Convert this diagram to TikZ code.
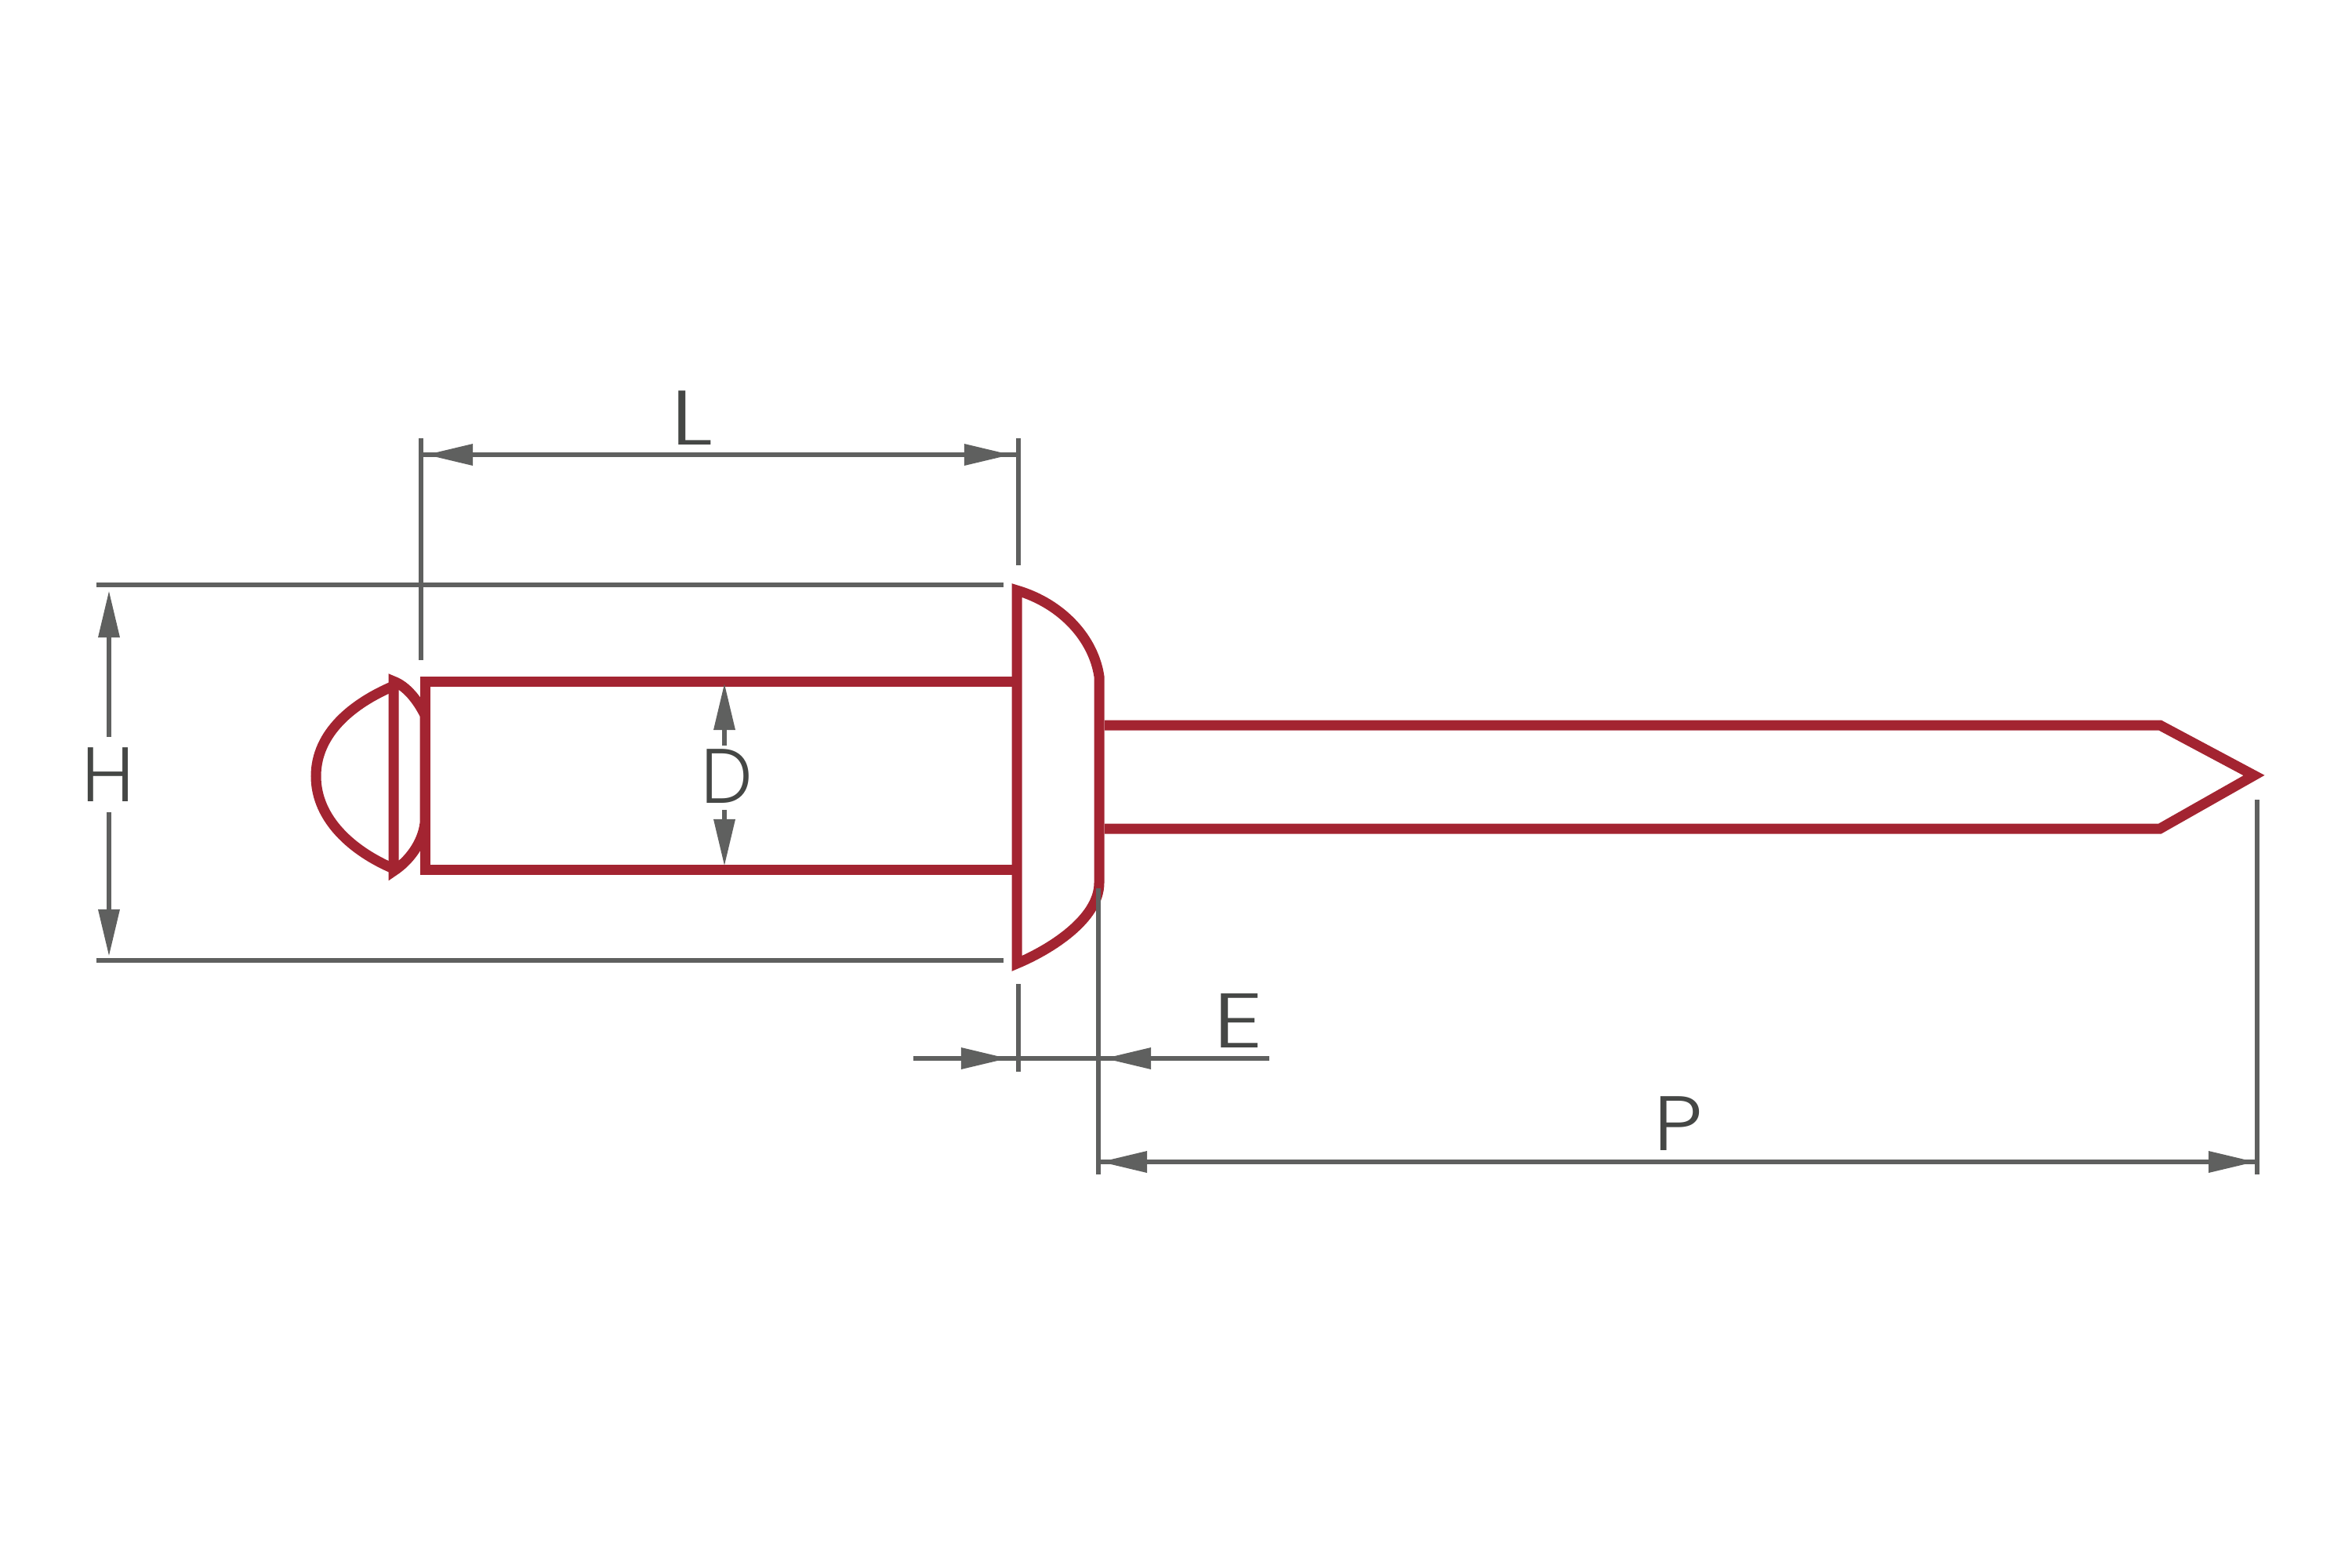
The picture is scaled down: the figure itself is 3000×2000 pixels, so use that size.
\documentclass[tikz,border=0pt]{standalone}
\usepackage{fontspec}
\setmainfont{Poppins Light}
\usetikzlibrary{arrows.meta,positioning}
\definecolor{rivetRed}{HTML}{A32431}
\definecolor{dimGray}{HTML}{5F605F}
\definecolor{labelGray}{HTML}{454745}

\begin{document}
\begin{tikzpicture}[x=0.01cm,y=-0.01cm]
\tikzset{myRed/.style={draw=rivetRed,line width=1.3mm,miter limit=10}}
\tikzset{myDim/.style={draw=dimGray,line width=0.65mm}}
\tikzset{myTip/.style={-{Triangle[length=6.0mm,width=2.6mm,color=dimGray]}}}
\tikzset{myLabel/.style={inner sep=0pt,text=labelGray,font=\fontsize{28}{28}\selectfont}}

\useasboundingbox (0,0) rectangle (3000,2000);

% rivet
\draw[myRed] (502,875) .. controls (450,897) and (403,935) .. (403,990) .. controls (403,1045) and (450,1086) .. (502,1108);
\draw[myRed] (502,869) .. controls (518,875) and (532,892) .. (542,912) -- (542,1050) .. controls (539,1075) and (522,1098) .. (502,1111) -- cycle;
\draw[myRed] (1297,869) -- (542,869) -- (542,1109) -- (1297,1109);
\draw[myRed] (1297,753) .. controls (1355,770) and (1395,815) .. (1402,863) -- (1402,1126) .. controls (1402,1172) and (1340,1211) .. (1297,1229) -- cycle;
\draw[myRed] (1409,925) -- (2755,925) -- (2875,989) -- (2755,1057) -- (1409,1057);

% extension lines
\coordinate (topA) at (123,746);
\coordinate (topB) at (1280,746);
\coordinate (botA) at (123,1225);
\coordinate (botB) at (1280,1225);
\coordinate (lLeftA) at (537,559);
\coordinate (lLeftB) at (537,842);
\coordinate (lRightA) at (1299,559);
\coordinate (lRightB) at (1299,721);
\coordinate (eTickA) at (1299,1255);
\coordinate (eTickB) at (1299,1367);
\coordinate (pLeftA) at (1401,1133);
\coordinate (pLeftB) at (1401,1498);
\coordinate (pRightA) at (2879,1020);
\coordinate (pRightB) at (2879,1498);
\path[myDim] (topA) edge (topB);
\path[myDim] (botA) edge (botB);
\path[myDim] (lLeftA) edge (lLeftB);
\path[myDim] (lRightA) edge (lRightB);
\path[myDim] (eTickA) edge (eTickB);
\path[myDim] (pLeftA) edge (pLeftB);
\path[myDim] (pRightA) edge (pRightB);

% L
\node[myLabel] (labelL) at (882,533) {\scalebox{1.3}[1]{L}};
\coordinate (lA) at (543,580);
\coordinate (lB) at (1290,580);
\path[myDim] (lA -| lRightA) edge[myTip] (lA);
\path[myDim] (lB -| lLeftA) edge[myTip] (lB);
\path[myDim] (lA) edge (lB -| lRightA);

% H
\node[myLabel] (labelH) at (138,988) {H};
\coordinate (hA) at (139,753);
\coordinate (hB) at (139,940);
\coordinate (hC) at (139,1036);
\coordinate (hD) at (139,1220);
\path[myDim] (hB) edge[myTip] (hA);
\path[myDim] (hC) edge[myTip] (hD);

% D
\node[myLabel] (labelD) at (927,990) {\scalebox{0.94}[1]{D}};
\coordinate (dA) at (924,871);
\coordinate (dB) at (924,951);
\coordinate (dC) at (924,1033);
\coordinate (dD) at (924,1105);
\path[myDim] (dB) edge[myTip] (dA);
\path[myDim] (dC) edge[myTip] (dD);

% E
\node[myLabel] (labelE) at (1580,1302) {\scalebox{1.3}[1]{E}};
\coordinate (eA) at (1165,1350);
\coordinate (eB) at (1286,1350);
\coordinate (eC) at (1619,1350);
\coordinate (eD) at (1408,1350);
\path[myDim] (eA) edge (eC);
\path[myDim] (eA) edge[myTip] (eB);
\path[myDim] (eC) edge[myTip] (eD);

% P
\node[myLabel] (labelP) at (2141,1433) {\scalebox{1.12}[1]{P}};
\coordinate (pA) at (1403,1482);
\coordinate (pB) at (2877,1482);
\path[myDim] (pB) edge[myTip] (pA);
\path[myDim] (pA) edge[myTip] (pB);
\end{tikzpicture}
\end{document}
